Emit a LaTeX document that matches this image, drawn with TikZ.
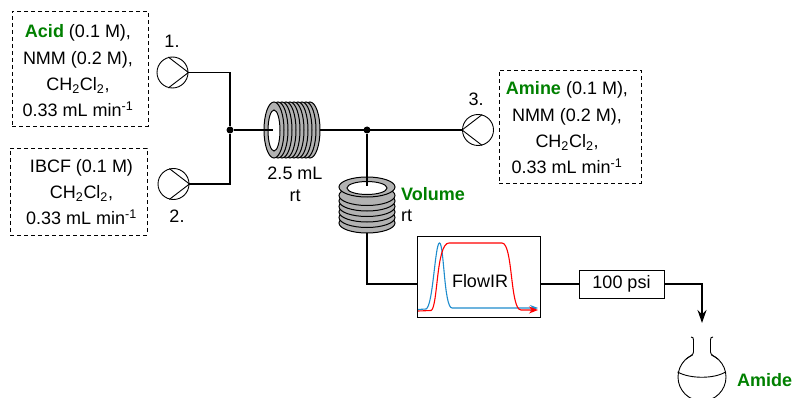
\documentclass[tikz,border=0pt]{standalone}
\usepackage{fontspec}
\setmainfont{Liberation Sans}
\usetikzlibrary{calc,arrows.meta,shapes.geometric}

\definecolor{chemgreen}{RGB}{0,128,0}
\definecolor{irblue}{RGB}{30,140,205}
\newcommand{\chem}[1]{\textcolor{chemgreen}{\textbf{#1}}}

\tikzset{
  reagent/.style={draw,dashed,dash pattern=on 4pt off 3pt,line width=0.8pt,inner sep=0pt},
  reagenttext/.style={align=center,inner sep=0pt,font=\fontsize{18}{26.3}\selectfont},
  pump/.style={draw,circle,line width=0.9pt,minimum size=31pt,inner sep=0pt},
  pipe/.style={line width=1.8pt},
  junction/.style={circle,fill=black,minimum size=7pt,inner sep=0pt},
  ring/.style={draw=black,fill=black!30,line width=1pt},
  label/.style={font=\fontsize{18}{22}\selectfont,align=center,inner sep=0pt},
}

\begin{document}
\begin{tikzpicture}[x=1pt,y=-1pt,>=Stealth]
    \useasboundingbox (0,0) rectangle (792,398);

    % reagent boxes
    \node[reagent,minimum width=136pt,minimum height=115pt] (acid) at (80,68.5) {};
    \node[reagenttext] (acidtext) at (78,71)
      {\chem{Acid} (0.1 M),\\ NMM (0.2 M),\\ CH\textsubscript{2}Cl\textsubscript{2},\\ 0.33 mL min\textsuperscript{-1}};
    \node[reagent,minimum width=137pt,minimum height=87pt] (ibcf) at (78.5,191.5) {};
    \node[reagenttext] (ibcftext) at (81.5,192)
      {IBCF (0.1 M)\\ CH\textsubscript{2}Cl\textsubscript{2},\\ 0.33 mL min\textsuperscript{-1}};
    \node[reagent,minimum width=142pt,minimum height=113pt] (amine) at (570,126.5) {};
    \node[reagenttext] (aminetext) at (567,128)
      {\chem{Amine} (0.1 M),\\ NMM (0.2 M),\\ CH\textsubscript{2}Cl\textsubscript{2},\\ 0.33 mL min\textsuperscript{-1}};

    % pumps
    \node[pump] (pumpA) at (172.5,72.5) {};
    \node[pump] (pumpB) at (173.5,184) {};
    \node[pump] (pumpC) at (478,130) {};
    \foreach \p in {pumpA,pumpB} {\draw[line width=0.9pt] (\p.105) -- (\p.east) -- (\p.255);};
    \draw[line width=0.9pt] (pumpC.75) -- (pumpC.west) -- (pumpC.285);
    \node[label] (numA) at (172,41) {1.};
    \node[label] (numB) at (177,216) {2.};
    \node[label] (numC) at (476,99) {3.};

    % first coil
    \foreach \x in {310,306,...,278} {\draw[ring] (\x,130) ellipse [x radius=10,y radius=28];};
    \draw[ring] (274,130) ellipse [x radius=10,y radius=28];
    \node[draw,ellipse,fill=white,line width=1pt,minimum width=12pt,minimum height=41pt,inner sep=0pt] (holeA) at (274,130.5) {};
    \coordinate (coilAin) at (273,130);
    \coordinate (coilAout) at (320,130);
    \node[label] (coilAtext) at (295,184) {2.5 mL\\ rt};

    % second coil
    \foreach \y in {223,217.5,...,193} {\draw[ring] (367,\y) ellipse [x radius=28,y radius=10];};
    \draw[ring] (367,187) ellipse [x radius=28,y radius=10];
    \node[draw,ellipse,fill=white,line width=1pt,minimum width=40pt,minimum height=13pt,inner sep=0pt] (holeB) at (367,188) {};
    \coordinate (coilBin) at (367,186);
    \coordinate (coilBout) at (367,233);
    \node[label,anchor=west] (volume) at (401,194) {\chem{Volume}};
    \node[label,anchor=west] (temp) at (401,216) {rt};

    % pipes
    \node[junction] (junA) at (230,130) {};
    \node[junction] (junB) at (367,130) {};
    \node[draw,line width=0.9pt,minimum width=123pt,minimum height=81pt,inner sep=0pt] (flowir) at (478.5,276.5) {};
    \node[draw,line width=0.9pt,minimum width=85pt,minimum height=28pt,inner sep=0pt,font=\fontsize{18}{20}\selectfont] (valve) at (621.5,284) {100 psi};
    \coordinate (outlet) at (702,323);
    \draw[pipe] (pumpA.east) -| (junA);
    \draw[pipe] (pumpB.east) -| (junA);
    \draw[pipe] (junA) -- (coilAin);
    \draw[pipe] (coilAout) -- (pumpC.west);
    \draw[pipe] (junB) -- (coilBin);
    \draw[pipe] (coilBout) |- (flowir.west |- valve.west);
    \draw[pipe] (flowir.east |- valve.west) -- (valve.west);
    \draw[pipe,-{Stealth[length=13pt,width=9pt]}] (valve.east) -| (outlet);

    % trace in the FlowIR box
    \draw[irblue,line width=1.1pt,-{Stealth[length=8pt,width=6pt]}] (418,309.5) -- (426,309)
      .. controls (433,307) and (435,243) .. (439.5,243)
      .. controls (444,243) and (444,308) .. (452,308) -- (538,308);
    \draw[red,line width=1.1pt,-{Stealth[length=9pt,width=7pt]}] (418,311) -- (431,310.5)
      .. controls (438,308) and (436,243) .. (449,243) -- (502,243)
      .. controls (513,243) and (510,310) .. (521,310) -- (538,310);
    \node[label] (irtext) at (480,281) {FlowIR};

    % flask
    \node[draw,circle,line width=0.9pt,minimum size=48pt,inner sep=0pt] (flask) at (702,377) {};
    \fill[white] (692.5,345) rectangle (710.5,360);
    \draw[line width=0.9pt] (691,337) .. controls (693,337) and (693.5,338) .. (693.5,340) -- (693.5,352)
      .. controls (693.5,355) and (690,356) .. (686,359);
    \draw[line width=0.9pt] (713,337) .. controls (711,337) and (710.5,338) .. (710.5,340) -- (710.5,352)
      .. controls (710.5,355) and (714,356) .. (718,359);
    \draw[line width=0.9pt] (flask.west) ++(0,-5) .. controls (690,379) and (714,379) .. (725.5,372);
    \node[label,anchor=west] (amide) at (737,380) {\chem{Amide}};
\end{tikzpicture}
\end{document}
